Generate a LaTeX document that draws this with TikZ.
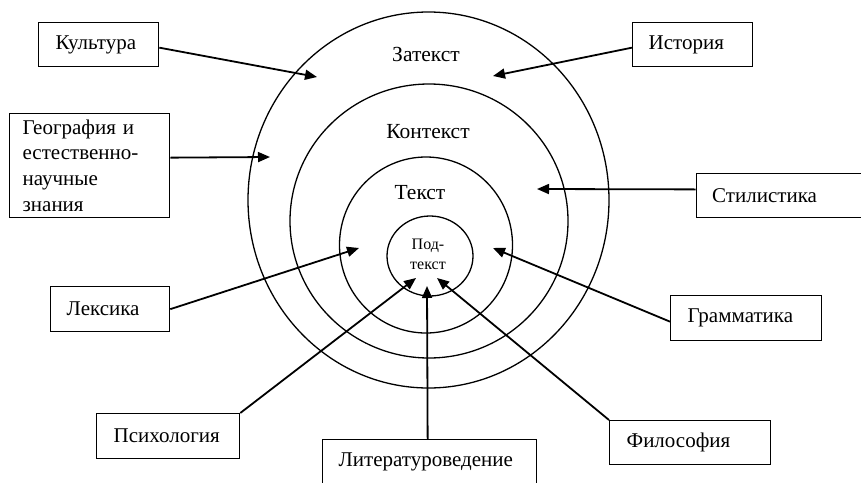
\documentclass[tikz,border=0pt]{standalone}
\usepackage{fontspec}
\setmainfont{Liberation Serif}
\usetikzlibrary{shapes.geometric,arrows.meta}
\begin{document}
\begin{tikzpicture}[x=1pt,y=-1pt,
  ring/.style={ellipse,draw,line width=1.3pt,inner sep=0pt},
  lbl/.style={font=\fontsize{21.5}{25.7}\selectfont,inner sep=0pt},
  box/.style={draw,line width=1.3pt,anchor=north west,align=left,inner ysep=0pt,inner xsep=17pt,
    font=\fontsize{21}{25.7}\selectfont},
  arr/.style={line width=1.8pt,-{Triangle[length=12pt,width=10pt]}}]
\useasboundingbox (0,0) rectangle (861,482);
\clip (0,0) rectangle (861,482);
\fill[white] (0,0) rectangle (861,482);
% rings
\node[ring,minimum width=361pt,minimum height=376pt] (zat) at (428.5,200) {};
\node[ring,minimum width=278pt,minimum height=274pt] (kon) at (429,221) {};
\node[ring,minimum width=173pt,minimum height=176pt] (tek) at (426,245) {};
\node[ring,minimum width=86pt,minimum height=80pt] (pod) at (430,256) {};
\node[lbl] (lzat) at (426,54) {Затекст};
\node[lbl] (lkon) at (428,132) {Контекст};
\node[lbl] (ltek) at (420,193) {Текст};
\node[inner sep=0pt,align=center,font=\fontsize{16}{20}\selectfont] (lpod) at (428,254) {Под-\\текст};
% boxes
\node[box,text width=86pt,minimum height=44pt] (kult) at (38,22) {Культура};
\node[box,inner xsep=13pt,text width=134pt,minimum height=104pt] (geo) at (9,113) {География и\\естественно-\\научные\\знания};
\node[box,inner xsep=16pt,text width=88pt,minimum height=44pt] (ist) at (632,22) {История};
\node[box,inner xsep=16pt,text width=168pt,minimum height=44.5pt] (stil) at (695.5,172.5) {Стилистика};
\node[box,inner xsep=16pt,text width=87pt,minimum height=45pt] (lex) at (50,286) {Лексика};
\node[box,text width=109pt,minimum height=45pt] (psy) at (96,413) {Психология};
\node[box,inner xsep=16pt,text width=182pt,minimum height=44pt] (lit) at (322,439) {Литературоведение};
\node[box,text width=117pt,minimum height=45pt] (gram) at (670,295) {Грамматика};
\node[box,text width=127pt,minimum height=44pt] (fil) at (609,420) {Философия};
% arrow tips
\coordinate (t1) at (317,77);
\coordinate (t2) at (493,76);
\coordinate (t3) at (270,157);
\coordinate (t4) at (537,189);
\coordinate (t5) at (359,248);
\coordinate (t6) at (416,278);
\coordinate (t7) at (427,286);
\coordinate (t8) at (437,278);
\coordinate (t9) at (493,248);
% arrows
\draw[arr] ([yshift=-3pt]kult.east) -- (t1);
\draw[arr] ([yshift=-3pt]ist.west) -- (t2);
\draw[arr] ([yshift=8pt]geo.east) -- (t3);
\draw[arr] ([yshift=6pt]stil.west) -- (t4);
\draw[arr] (lex.east) -- (t5);
\draw[arr] (psy.north east) -- (t6);
\draw[arr] ([xshift=-2pt]lit.north) -- (t7);
\draw[arr] (fil.north west) -- (t8);
\draw[arr] ([yshift=-3.5pt]gram.west) -- (t9);
\end{tikzpicture}
\end{document}
